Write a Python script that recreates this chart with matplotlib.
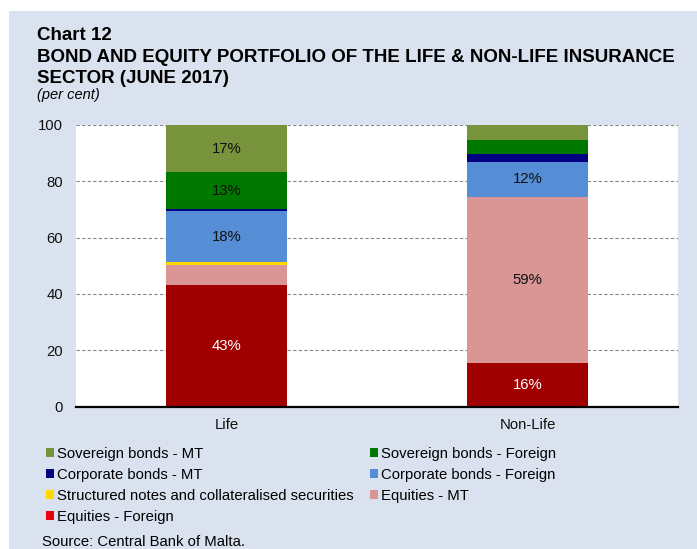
import numpy as np
import matplotlib
matplotlib.use('Agg')
import matplotlib.pyplot as plt
from matplotlib.patches import Rectangle, Patch
from matplotlib import rcParams

rcParams['font.family'] = ['Liberation Sans', 'DejaVu Sans']
rcParams['font.size'] = 10.7

categories = ['Life', 'Non-Life']
series = [
    'Equities - Foreign',
    'Equities - MT',
    'Structured notes and collateralised securities',
    'Corporate bonds - Foreign',
    'Corporate bonds - MT',
    'Sovereign bonds - Foreign',
    'Sovereign bonds - MT',
]
equities_foreign = [43.2, 15.6]
equities_mt = [6.9, 59.0]
structured = [1.1, 0.0]
corporate_foreign = [18.2, 12.1]
corporate_mt = [0.7, 2.9]
sovereign_foreign = [13.2, 5.0]
sovereign_mt = [16.7, 5.4]

values = [equities_foreign, equities_mt, structured, corporate_foreign,
          corporate_mt, sovereign_foreign, sovereign_mt]
bar_colors = ['#a00000', '#d99694', '#ffd800', '#558ed5', '#000080', '#007800', '#77933c']
legend_colors = ['#e8000b', '#d99694', '#ffd800', '#558ed5', '#000080', '#007800', '#77933c']

FS = 10.7
W, H = 697, 549
fig = plt.figure(figsize=(W / 100, H / 100), dpi=100, facecolor='white')
fig.patches.append(Rectangle((9 / W, 0), 1 - 9 / W, 1 - 11 / H, transform=fig.transFigure,
                             facecolor='#dbe2ef', edgecolor='none', zorder=-10))

ax = fig.add_axes([76 / W, 1 - 406.5 / H, 602 / W, 281.5 / H])
ax.set_facecolor('white')

x = np.arange(len(categories))
bottom = np.zeros(len(categories))
for vals, col in zip(values, bar_colors):
    vals = np.array(vals)
    ax.bar(x, vals, width=0.4, bottom=bottom, color=col, edgecolor='none', zorder=3)
    for xi, v, b0 in zip(x, vals, bottom):
        if v >= 10:
            tc = 'white' if col == '#a00000' else '#111111'
            ax.text(xi, b0 + v / 2, f'{v:.0f}%', ha='center', va='center',
                    color=tc, fontsize=FS, zorder=4)
    bottom += vals

ax.set_xlim(-0.5, 1.5)
ax.set_ylim(0, 100)
ax.set_yticks([0, 20, 40, 60, 80, 100])
ax.set_xticks(x)
ax.set_xticklabels(categories)
ax.tick_params(axis='both', length=0, labelsize=FS, colors='#111111')
ax.tick_params(axis='y', pad=9.5)
ax.tick_params(axis='x', pad=8)
for yv in [20, 40, 60, 80, 100]:
    ax.axhline(yv, color='#888888', linewidth=0.8, linestyle=(0, (3, 2)), zorder=1)
for s in ['top', 'right', 'left']:
    ax.spines[s].set_visible(False)
ax.spines['bottom'].set_linewidth(1.6)
ax.spines['bottom'].set_color('black')
ax.spines['bottom'].set_zorder(5)

# legend filled column-first, so order gives row-wise layout
order = [6, 4, 2, 0, 5, 3, 1]
handles = [Patch(facecolor=legend_colors[i], edgecolor='none') for i in order]
labels = [series[i] for i in order]
fig.legend(handles, labels, ncol=2, loc='upper left', bbox_to_anchor=(46 / W, 1 - 447 / H),
           frameon=False, fontsize=FS, handlelength=0.55, handleheight=0.55,
           handletextpad=0.22, columnspacing=1.07, labelspacing=0.46, borderpad=0,
           borderaxespad=0)

fig.text(37 / W, 1 - 40.5 / H, 'Chart 12', fontsize=13.5, fontweight='bold', va='baseline')
fig.text(37 / W, 1 - 62 / H, 'BOND AND EQUITY PORTFOLIO OF THE LIFE & NON-LIFE INSURANCE',
         fontsize=13.5, fontweight='bold', va='baseline')
fig.text(37 / W, 1 - 82.5 / H, 'SECTOR (JUNE 2017)', fontsize=13.5, fontweight='bold', va='baseline')
fig.text(37 / W, 1 - 99 / H, '(per cent)', fontsize=10.5, fontstyle='italic', va='baseline')
fig.text(42 / W, 1 - 546 / H, 'Source: Central Bank of Malta.', fontsize=FS, va='baseline')

fig.savefig('out.png', dpi=100, facecolor='white')
